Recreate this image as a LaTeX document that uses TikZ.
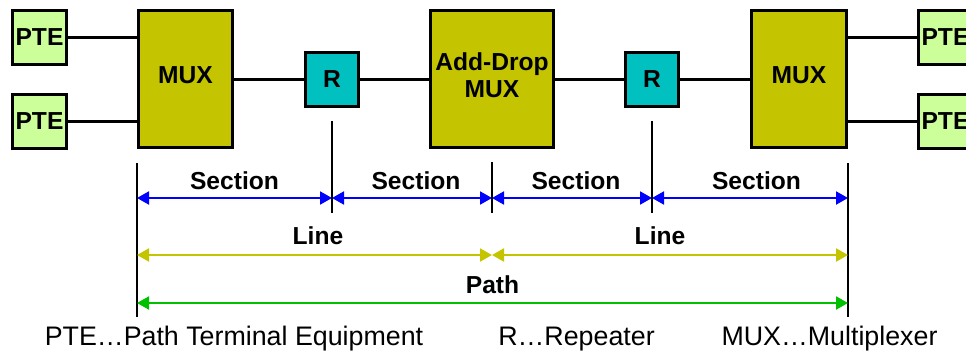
\documentclass[tikz,border=0pt]{standalone}
\usepackage{fontspec}
\setmainfont{Liberation Sans}
\usetikzlibrary{arrows.meta}
\definecolor{muxfill}{RGB}{196,196,0}
\definecolor{ptefill}{RGB}{204,255,153}
\definecolor{rfill}{RGB}{0,192,192}
\definecolor{secblue}{RGB}{0,0,255}
\definecolor{lineolive}{RGB}{196,196,0}
\definecolor{pathgreen}{RGB}{0,192,0}
\tikzset{
  box/.style={draw=black, line width=3pt, inner sep=0pt, align=center,
    font=\fontsize{24.6}{27}\selectfont\bfseries},
  ptebox/.style={box, fill=ptefill, minimum width=54pt, minimum height=54pt},
  muxbox/.style={box, fill=muxfill, minimum height=137pt, text depth=8pt},
  rbox/.style={box, fill=rfill, minimum width=53pt, minimum height=54pt},
  wire/.style={draw=black, line width=3pt},
  tick/.style={draw=black, line width=1.6pt},
  span/.style={line width=2pt, {Triangle[length=12pt,width=13pt]}-{Triangle[length=12pt,width=13pt]}},
  lbl/.style={anchor=base, inner sep=0pt, font=\fontsize{24.6}{27}\selectfont\bfseries},
  legend/.style={anchor=base, inner sep=0pt, font=\fontsize{26.8}{30}\selectfont},
}
\begin{document}
\begin{tikzpicture}[x=1pt,y=-1pt]
\useasboundingbox (0,0) rectangle (966,353);
% boxes
\node[ptebox] (pteA) at (39.5,37.5) {PTE};
\node[ptebox] (pteB) at (39.5,121) {PTE};
\node[muxbox, minimum width=94pt] (mux1) at (185.5,79) {MUX};
\node[rbox] (r1) at (332,79.5) {R};
\node[muxbox, minimum width=123pt] (adm) at (492,79) {Add-Drop\\MUX};
\node[rbox] (r2) at (652,79.5) {R};
\node[muxbox, minimum width=95pt] (mux2) at (799,79) {MUX};
\node[ptebox] (pteC) at (945.5,37.5) {PTE};
\node[ptebox] (pteD) at (945.5,121) {PTE};
% wires
\draw[wire] (pteA.east) -- (mux1.west |- pteA.east);
\draw[wire] (pteB.east) -- (mux1.west |- pteB.east);
\draw[wire] (mux1.east) -- (r1.west |- mux1.east);
\draw[wire] (r1.east |- adm.west) -- (adm.west);
\draw[wire] (adm.east) -- (r2.west |- adm.east);
\draw[wire] (r2.east |- mux2.west) -- (mux2.west);
\draw[wire] (mux2.east |- pteC.west) -- (pteC.west);
\draw[wire] (mux2.east |- pteD.west) -- (pteD.west);
% ticks
\coordinate (v0t) at (137,163); \coordinate (v0b) at (137,317);
\coordinate (v1t) at (332,121); \coordinate (v1b) at (332,213);
\coordinate (v2t) at (492,162); \coordinate (v2b) at (492,213);
\coordinate (v3t) at (652,121); \coordinate (v3b) at (652,213);
\coordinate (v4t) at (848,163); \coordinate (v4b) at (848,317);
\draw[tick] (v0t) -- (v0b);
\draw[tick] (v1t) -- (v1b);
\draw[tick] (v2t) -- (v2b);
\draw[tick] (v3t) -- (v3b);
\draw[tick] (v4t) -- (v4b);
% section arrows
\coordinate (s0) at (137,198); \coordinate (s1) at (332,198);
\coordinate (s2) at (492,198); \coordinate (s3) at (652,198);
\coordinate (s4) at (848,198);
\draw[span, secblue] (s0) -- (s1);
\draw[span, secblue] (s1) -- (s2);
\draw[span, secblue] (s2) -- (s3);
\draw[span, secblue] (s3) -- (s4);
% line arrows
\coordinate (l0) at (137,255); \coordinate (l1) at (492,255); \coordinate (l2) at (848,255);
\draw[span, lineolive] (l0) -- (l1);
\draw[span, lineolive] (l1) -- (l2);
% path arrow
\coordinate (p0) at (137,303); \coordinate (p1) at (848,303);
\draw[span, pathgreen] (p0) -- (p1);
% labels
\node[lbl] (ls1) at (234.5,189) {Section};
\node[lbl] (ls2) at (416,189) {Section};
\node[lbl] (ls3) at (576,189) {Section};
\node[lbl] (ls4) at (756.5,189) {Section};
\node[lbl] (ll1) at (318,244) {Line};
\node[lbl] (ll2) at (660,244) {Line};
\node[lbl] (lp) at (492.5,293) {Path};
% legend
\node[legend] (g1) at (234,345) {PTE…Path Terminal Equipment};
\node[legend] (g2) at (576.5,345) {R…Repeater};
\node[legend] (g3) at (829.5,345) {MUX…Multiplexer};
\end{tikzpicture}
\end{document}
